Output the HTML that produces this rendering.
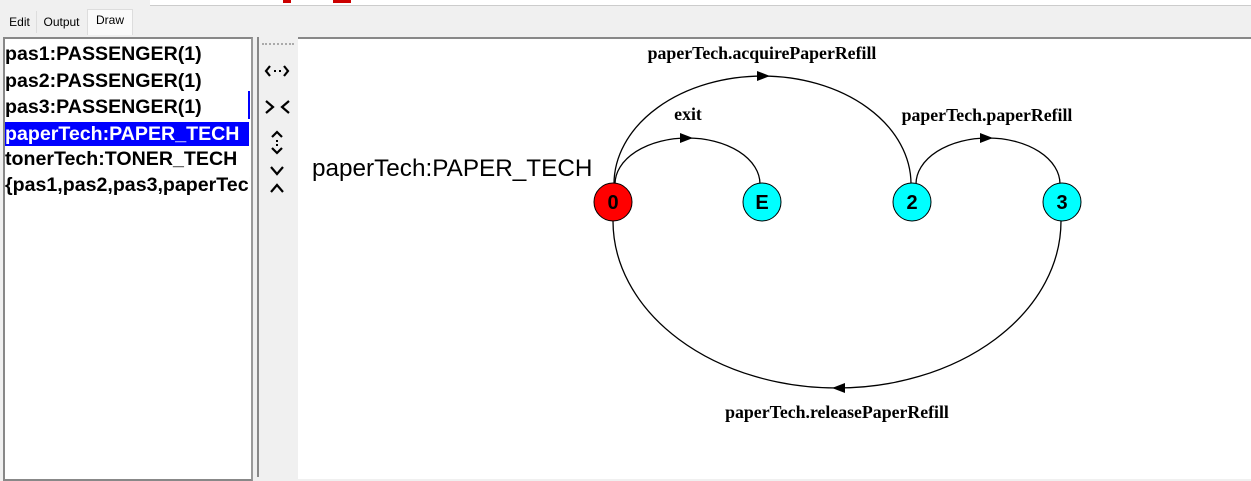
<!DOCTYPE html>
<html><head><style>
body{margin:0;width:1251px;height:466px;background:#f0f0f0;position:relative;overflow:hidden;font-family:"Liberation Sans",sans-serif}
.a{position:absolute}
.list div{height:26.5px;line-height:26px;font-weight:bold;font-size:19.6px;white-space:nowrap;padding-left:0px}
.tab{position:absolute;top:11px;height:22px;font-size:12px;line-height:22px;text-align:center}
</style></head><body>
<div class="a" style="left:0;top:0;width:1251px;height:5px;background:#f0f0f0"></div>
<div class="a" style="left:150px;top:0;width:1101px;height:5px;background:#fff;border-bottom:1px solid #ccc"></div>
<div class="a" style="left:283px;top:0;width:8px;height:3px;background:#c00"></div>
<div class="a" style="left:333px;top:0;width:18px;height:3px;background:#c00"></div>
<div class="tab" style="left:3px;width:33px;border-right:1px solid #ddd">Edit</div>
<div class="tab" style="left:37px;width:49px">Output</div>
<div class="tab" style="left:87px;top:9px;width:44px;height:25px;background:#fafafa;border:1px solid #ddd;border-bottom:none;line-height:20px">Draw</div>
<div class="a" style="left:3px;top:37px;width:246px;height:440px;background:#fff;border:2px solid #888;border-right-color:#999"></div>
<div class="a list" style="left:5px;top:41px;width:245px;overflow:hidden">
<div>pas1:PASSENGER(1)</div>
<div>pas2:PASSENGER(1)</div>
<div>pas3:PASSENGER(1)</div>
<div style="background:#00f;color:#fff;width:244px;height:24px;line-height:24px;margin-top:1px">paperTech:PAPER_TECH</div>
<div>tonerTech:TONER_TECH</div>
<div>{pas1,pas2,pas3,paperTech,tonerTech}</div>
</div>
<div class="a" style="left:248px;top:91px;width:2px;height:28px;background:#00f"></div>
<div class="a" style="left:257px;top:37px;width:40px;height:440px;background:#f0f0f0;border-left:2px solid #888;border-right:1px solid #888"></div>
<div class="a" style="left:262px;top:43px;width:32px;border-top:2px dotted #aaa"></div>
<div class="a" style="left:298px;top:37px;width:953px;height:440px;background:#fff;border-top:2px solid #888"></div>
<svg class="a" style="left:0;top:0" width="1251" height="466">
<g fill="none" stroke="#000" stroke-width="2.2">
<path d="M270 66 l-4 5 l4 5 M284 66 l4 5 l-4 5"/>
<path d="M266 101 l7 6 l-7 6 M289 101 l-7 6 l7 6"/>
<path d="M272 137 l5 -5 l5 5 M272 148 l5 5 l5 -5"/>
<path d="M271 167 l6 7 l6 -7 M271 192 l6 -7 l6 7"/>
</g>
<g fill="#000"><rect x="274" y="70" width="2" height="2"/><rect x="279" y="70" width="2" height="2"/><rect x="276" y="140" width="2" height="2"/><rect x="276" y="144" width="2" height="2"/></g>
<text x="312" y="176" font-size="24.3" font-family="Liberation Sans">paperTech:PAPER_TECH</text>
<g fill="none" stroke="#000" stroke-width="1.3">
<path d="M615 184 A72.5 46 0 0 1 760 184"/>
<path d="M614 184 A148.5 108 0 0 1 911 184"/>
<path d="M916 184 A72 46 0 0 1 1060 184"/>
<path d="M613 221 A224 167 0 0 0 1061 221"/>
</g>
<g fill="#000">
<path d="M680 133 l13 5 l-13 5z"/>
<path d="M757 71 l13 5 l-13 5z"/>
<path d="M980 133 l13 5 l-13 5z"/>
<path d="M845 383 l-13 5 l13 5z"/>
</g>
<g font-family="Liberation Serif" font-weight="bold" font-size="17.8" text-anchor="middle">
<text x="688" y="120">exit</text>
<text x="762" y="59">paperTech.acquirePaperRefill</text>
<text x="987" y="121">paperTech.paperRefill</text>
<text x="837" y="418">paperTech.releasePaperRefill</text>
</g>
<g stroke="#000" stroke-width="1">
<circle cx="613" cy="202" r="19" fill="#f00"/>
<circle cx="762" cy="202" r="19" fill="#0ff"/>
<circle cx="912" cy="202" r="19" fill="#0ff"/>
<circle cx="1062" cy="202" r="19" fill="#0ff"/>
</g>
<g font-family="Liberation Sans" font-weight="bold" font-size="20" text-anchor="middle">
<text x="613" y="209">0</text><text x="762" y="209">E</text><text x="912" y="209">2</text><text x="1062" y="209">3</text>
</g>
</svg>
</body></html>
